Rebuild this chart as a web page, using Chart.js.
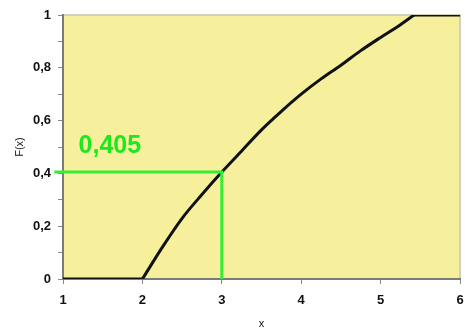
<!DOCTYPE html>
<html>
<head>
<meta charset="utf-8">
<script src="https://cdn.jsdelivr.net/npm/chart.js@4.4.1/dist/chart.umd.min.js"></script>
<style>
  html, body { margin: 0; padding: 0; background: #fff; }
  #wrap { width: 465px; height: 329px; position: relative; }
</style>
</head>
<body>
<div id="wrap"><canvas id="cdf_canvas"></canvas></div>
<script>
// Verteilungsfunktion F(x)
const flatLowX = [1, 2];
const flatLowY = [0, 0];
const xValues = [2, 2.25, 2.5, 2.75, 3, 3.25, 3.5, 3.75, 4, 4.25, 4.5, 4.75, 5, 5.25, 5.42];
const fValues = [0, 0.12, 0.23, 0.32, 0.405, 0.485, 0.565, 0.635, 0.70, 0.758, 0.81, 0.865, 0.915, 0.963, 1];
const flatHighX = [5.42, 6];
const flatHighY = [1, 1];

// Markierung bei x = 3
const markX = [0.89, 3, 3];
const markY = [0.405, 0.405, 0];
const markLabel = '0,405';
const markLabelPos = { x: 1.59, y: 0.505 };

const xTitle = 'x';
const yTitle = 'F(x)';

const fmt = v => (Math.abs(v) < 1e-9 ? '0' : Math.abs(v - 1) < 1e-9 ? '1' : v.toFixed(1).replace('.', ','));
const pts = (xs, ys) => xs.map((x, i) => ({ x, y: ys[i] }));

// Hintergrund der Zeichenfläche + Rahmen oben/rechts, Beschriftung
const plotBg = {
  id: 'plotBg',
  beforeDraw(chart) {
    const { ctx, chartArea: a } = chart;
    ctx.save();
    ctx.fillStyle = '#f6f09c';
    ctx.fillRect(a.left, a.top, a.right - a.left, a.bottom - a.top);
    ctx.strokeStyle = '#cfcfc4';
    ctx.lineWidth = 2;
    ctx.beginPath();
    ctx.moveTo(a.left, a.top);
    ctx.lineTo(a.right, a.top);
    ctx.lineTo(a.right, a.bottom);
    ctx.stroke();
    ctx.restore();
  },
  afterDatasetsDraw(chart) {
    const { ctx, scales } = chart;
    ctx.save();
    ctx.fillStyle = '#1de81d';
    ctx.font = 'bold 25px "Liberation Sans", Arial, sans-serif';
    ctx.textAlign = 'center';
    ctx.textBaseline = 'middle';
    ctx.fillText(markLabel, scales.x.getPixelForValue(markLabelPos.x), scales.y.getPixelForValue(markLabelPos.y));
    ctx.restore();
  }
};

const curveStyle = {
  showLine: true,
  borderColor: '#111111',
  borderWidth: 3,
  pointRadius: 0,
  borderCapStyle: 'round',
  borderJoinStyle: 'round'
};

const ctx = document.getElementById('cdf_canvas');
new Chart(ctx, {
  type: 'scatter',
  data: {
    datasets: [
      {
        label: 'Markierung',
        data: pts(markX, markY),
        showLine: true,
        borderColor: '#33ee33',
        borderWidth: 3,
        pointRadius: 0,
        clip: false
      },
      { label: 'F(x) links', data: pts(flatLowX, flatLowY), ...curveStyle },
      { label: 'F(x)', data: pts(xValues, fValues), ...curveStyle, cubicInterpolationMode: 'monotone' },
      { label: 'F(x) rechts', data: pts(flatHighX, flatHighY), ...curveStyle }
    ]
  },
  options: {
    responsive: true,
    maintainAspectRatio: false,
    animation: false,
    layout: { padding: { top: 15, right: 5, left: 0, bottom: 0 } },
    plugins: {
      legend: { display: false },
      tooltip: { enabled: false }
    },
    scales: {
      x: {
        type: 'linear',
        min: 1,
        max: 6,
        afterFit(s) { s.height = 50; s.paddingRight = 0; },
        ticks: {
          stepSize: 1,
          color: '#111',
          font: { family: '"Liberation Sans", Arial', size: 13, weight: 'bold' },
          padding: 9
        },
        grid: { drawOnChartArea: false, tickLength: 5, color: '#8a8a8a', lineWidth: 1 },
        border: { color: '#7a7a7a', width: 2 },
        title: {
          display: true,
          text: xTitle,
          color: '#111',
          font: { family: '"Liberation Sans", Arial', size: 11 },
          padding: { top: 0, bottom: -2 }
        }
      },
      y: {
        min: 0,
        max: 1,
        afterFit(s) { s.width = 63; },
        ticks: {
          stepSize: 0.1,
          color: '#111',
          font: { family: '"Liberation Sans", Arial', size: 13, weight: 'bold' },
          padding: 7,
          callback: (v, i) => (i % 2 === 0 ? fmt(v) : '')
        },
        grid: { drawOnChartArea: false, tickLength: 5, color: '#8a8a8a', lineWidth: 1 },
        border: { color: '#7a7a7a', width: 2 },
        title: {
          display: true,
          text: yTitle,
          color: '#111',
          font: { family: '"Liberation Sans", Arial', size: 11 },
          padding: { top: 13, bottom: 0 }
        }
      }
    }
  },
  plugins: [plotBg]
});
</script>
</body>
</html>
